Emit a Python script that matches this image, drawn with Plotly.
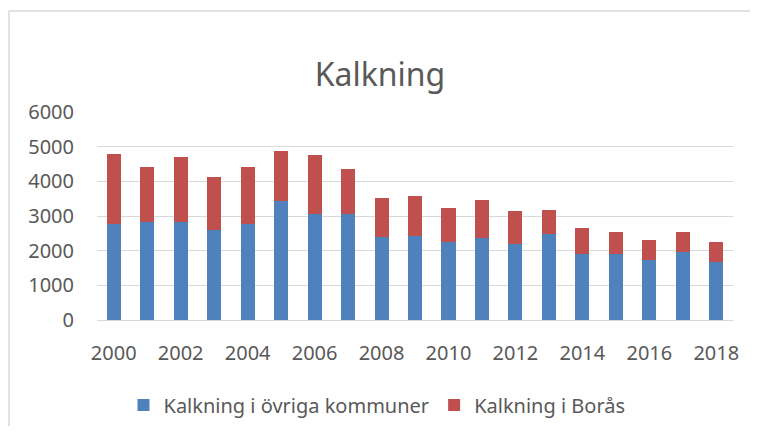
import plotly.graph_objects as go

years = list(range(2000, 2019))
ovriga = [2780, 2840, 2840, 2610, 2780, 3420, 3070, 3070, 2380, 2430,
          2260, 2370, 2200, 2490, 1910, 1910, 1740, 1970, 1680]
totals = [4800, 4400, 4700, 4120, 4400, 4870, 4750, 4350, 3530, 3590,
          3240, 3470, 3130, 3180, 2660, 2550, 2320, 2550, 2260]
boras = [t - o for t, o in zip(totals, ovriga)]

text_color = "#595959"
grid_color = "#D9D9D9"

fig = go.Figure()
fig.add_trace(go.Bar(x=years, y=ovriga, name="Kalkning i övriga kommuner",
                     marker_color="#4F81BD", marker_line_width=0))
fig.add_trace(go.Bar(x=years, y=boras, name="Kalkning i Borås",
                     marker_color="#C0504D", marker_line_width=0))

# the page body has an 8px margin, so the figure sits at (8, 8) in the window;
# positions below are window pixels, shifted by OFF
OFF = 8
W, H = 758 - 2 * OFF, 434 - 2 * OFF
L, R, T, B = 97 - OFF, W - (733 - OFF), 112 - OFF, H - (320 - OFF)
pw, ph = W - L - R, H - T - B


def px_x(v):
    return (v - OFF - L) / pw


def px_y(v):
    return (H - B - (v - OFF)) / ph


fig.update_layout(
    width=W, height=H,
    margin=dict(l=L, r=R, t=T, b=B, autoexpand=False),
    paper_bgcolor="white", plot_bgcolor="white",
    barmode="stack", bargap=0.58,
    font=dict(family="Noto Sans", size=20, color=text_color),
    title=dict(text="Kalkning", x=(380 - OFF) / W, xanchor="center",
               y=1 - (75 - OFF) / H, yanchor="middle",
               font=dict(size=32, color=text_color)),
    legend=dict(orientation="h", traceorder="normal",
                xref="container", yref="container",
                x=(377 - OFF) / W, xanchor="center",
                y=1 - (405 - OFF) / H, yanchor="middle",
                font=dict(size=20, color=text_color)),
    shapes=[
        dict(type="line", xref="paper", yref="paper",
             x0=px_x(9), x1=px_x(750), y0=px_y(11), y1=px_y(11),
             line=dict(color=grid_color, width=1.5)),
        dict(type="line", xref="paper", yref="paper",
             x0=px_x(9), x1=px_x(9), y0=px_y(11), y1=px_y(426),
             line=dict(color=grid_color, width=1.5)),
    ],
)
fig.update_xaxes(range=[1999.5, 2018.5], tickmode="linear", tick0=2000, dtick=2,
                 showgrid=False, showline=False, zeroline=False,
                 ticklabelstandoff=19)
fig.update_yaxes(range=[0, 6000], dtick=1000, showgrid=True, gridcolor=grid_color,
                 gridwidth=1, zeroline=True, zerolinecolor=grid_color, zerolinewidth=1,
                 showline=False, ticklabelstandoff=22)

fig.write_html("out.html")
